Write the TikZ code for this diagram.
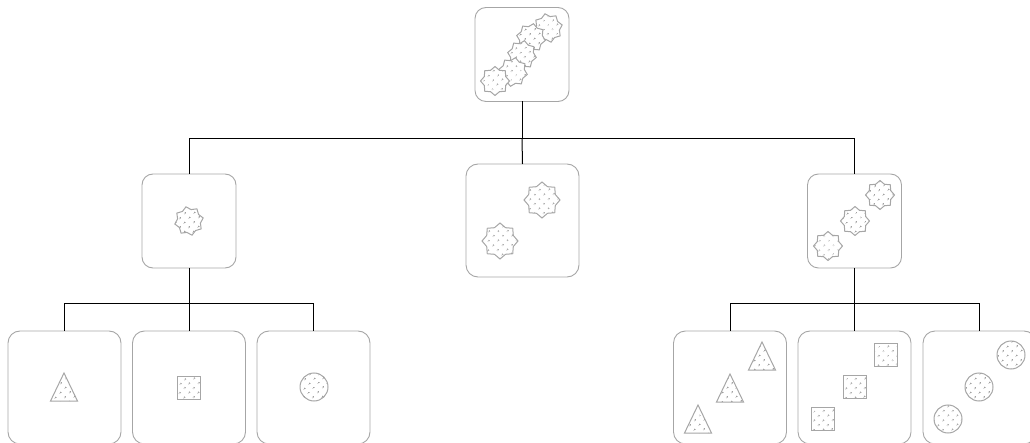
\documentclass[tikz,border=0pt]{standalone}
\usepackage{amssymb}
\usetikzlibrary{shapes.geometric,patterns.meta}
\definecolor{edgegray}{HTML}{A6A6A6}
\definecolor{dotgray}{HTML}{8C8C8C}
\begin{document}
\begin{tikzpicture}[x=1pt,y=-1pt]
	\tikzstyle{every node}+=[inner sep=0pt,outer sep=0pt]
	\tikzstyle{wire}=[black,line width=1pt]
	\tikzstyle{smallbox}=[draw=edgegray,line width=0.9pt,rounded corners=11pt,minimum width=94pt,minimum height=94pt]
	\tikzstyle{bigbox}=[draw=edgegray,line width=0.9pt,rounded corners=12pt,minimum width=113pt,minimum height=113pt]
	\tikzstyle{dotted shape}=[draw=edgegray,line width=1pt,preaction={fill=white},pattern={Dots[distance=6.5pt,angle=45,radius=0.95pt]},pattern color=dotgray]
	\tikzstyle{starmark}=[dotted shape,star,star points=8,star point ratio=1.25,minimum size=29pt]
	\tikzstyle{bigstarmark}=[starmark,minimum size=36pt]
	\tikzstyle{trimark}=[dotted shape,isosceles triangle,shape border rotate=90,isosceles triangle apex angle=51,isosceles triangle stretches,minimum width=27pt,minimum height=28pt,anchor=apex]
	\tikzstyle{squaremark}=[dotted shape,rectangle,minimum size=23pt]
	\tikzstyle{circlemark}=[dotted shape,circle,minimum size=28pt]
	\clip (0,0) rectangle (1030,443);
	% boxes
	\node [smallbox] (root) at (522,54.5) {};
	\node [smallbox] (left) at (189,221) {};
	\node [bigbox] (mid) at (522.5,220.5) {};
	\node [smallbox] (right) at (854.5,221) {};
	\node [bigbox] (tri) at (64.5,387.5) {};
	\node [bigbox] (sq) at (189,387.5) {};
	\node [bigbox] (circ) at (313.5,387.5) {};
	\node [bigbox] (tris) at (730,387.5) {};
	\node [bigbox] (sqs) at (854.5,387.5) {};
	\node [bigbox] (circs) at (979.5,387.5) {};
	% junctions
	\coordinate (rootbus) at (522,139);
	\coordinate (leftbus) at (189,304);
	\coordinate (rightbus) at (854.5,304);
	% connectors
	\draw [wire] (root.south) -- (rootbus) -| (left.north);
	\draw [wire] (rootbus) -- (mid.north);
	\draw [wire] (rootbus) -| (right.north);
	\draw [wire] (left.south) -- (leftbus) -| (tri.north);
	\draw [wire] (leftbus) -- (sq.north);
	\draw [wire] (leftbus) -| (circ.north);
	\draw [wire] (right.south) -- (rightbus) -| (tris.north);
	\draw [wire] (rightbus) -- (sqs.north);
	\draw [wire] (rightbus) -| (circs.north);
	% root stars
	\node [starmark,rotate=12] (s1) at (548,28) {};
	\node [starmark,rotate=-10] (s2) at (531,38) {};
	\node [starmark,rotate=-10] (s3) at (522,55) {};
	\node [starmark,rotate=-10] (s4) at (513,72) {};
	\node [starmark] (s5) at (495,81) {};
	% second row
	\node [starmark,rotate=12] (s6) at (189,221) {};
	\node [bigstarmark] (s7) at (542,200) {};
	\node [bigstarmark] (s8) at (500,241) {};
	\node [starmark] (s9) at (880,195) {};
	\node [starmark] (s10) at (855,221) {};
	\node [starmark] (s11) at (828,246) {};
	% leaves
	\node [trimark] (t1) at (64,373) {};
	\node [squaremark] (q1) at (189,388) {};
	\node [circlemark] (c1) at (314,387) {};
	\node [trimark] (t2) at (762,342) {};
	\node [trimark] (t3) at (730,374) {};
	\node [trimark] (t4) at (698,405) {};
	\node [squaremark] (q2) at (886,355) {};
	\node [squaremark] (q3) at (855,387) {};
	\node [squaremark] (q4) at (823,419) {};
	\node [circlemark] (c2) at (1011,355) {};
	\node [circlemark] (c3) at (979,387) {};
	\node [circlemark] (c4) at (948,419) {};
\end{tikzpicture}
\end{document}
